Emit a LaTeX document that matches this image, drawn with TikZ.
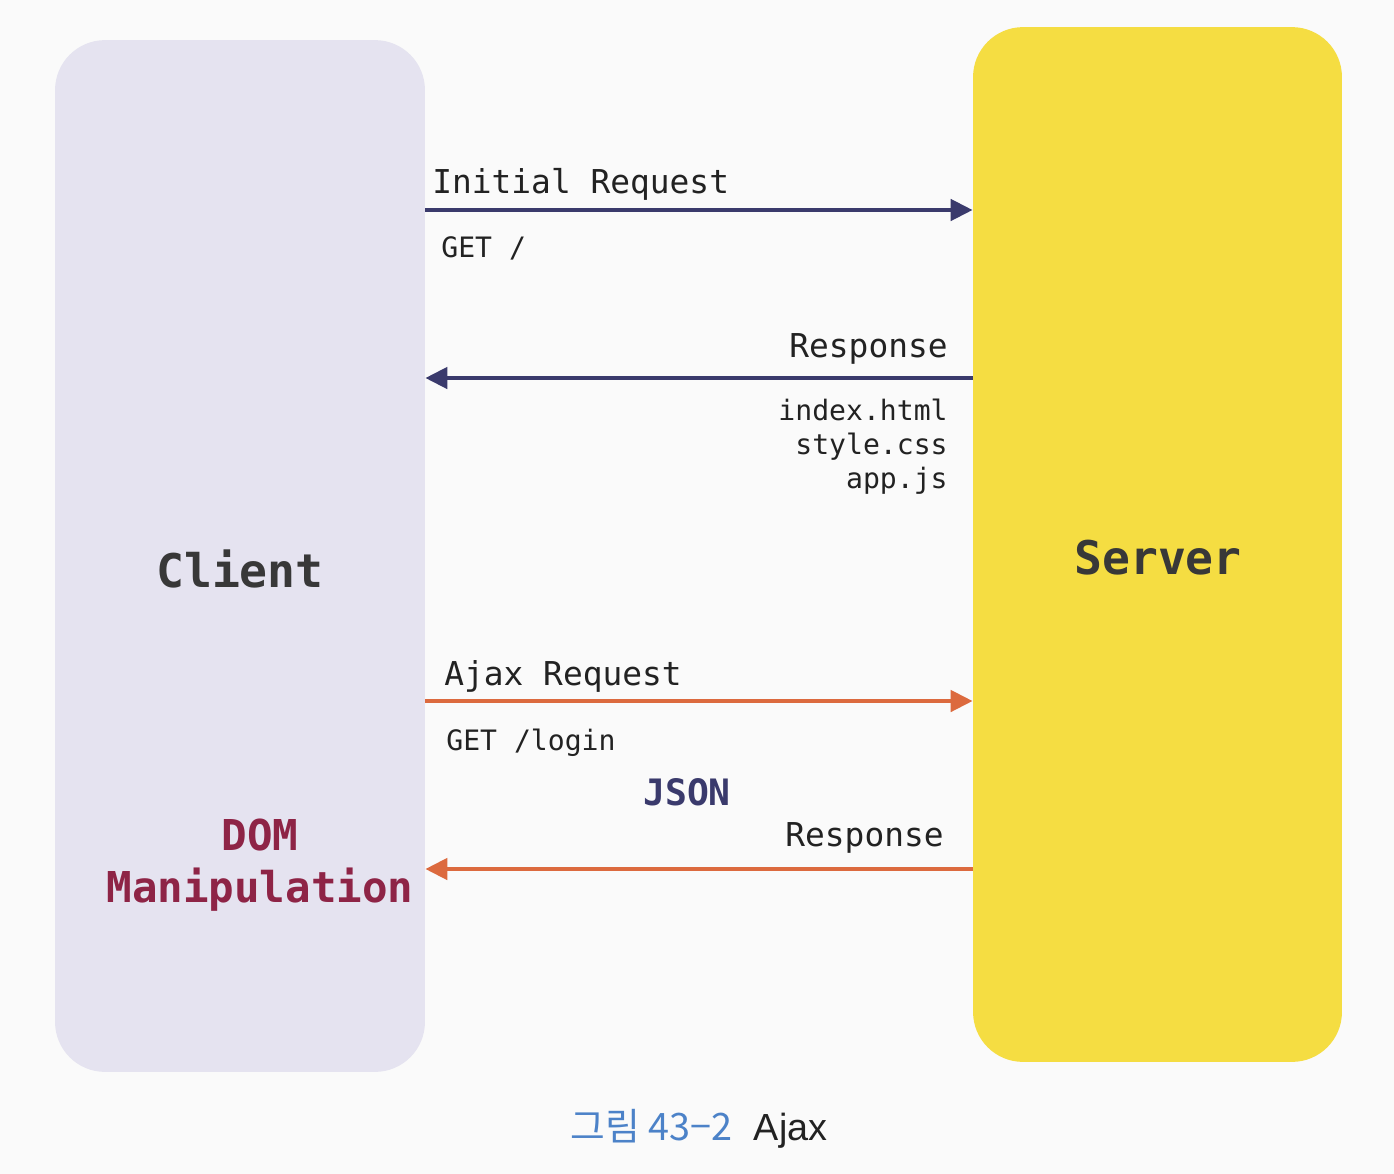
\documentclass[tikz,border=0pt]{standalone}
\usepackage{fontspec}
\setmonofont{DejaVu Sans Mono}
\newfontfamily\capkr{Noto Sans CJK KR}
\newfontfamily\capsans{Liberation Sans}
\usepackage{tikz}
\usetikzlibrary{positioning,arrows.meta}
\definecolor{paper}{HTML}{FAFAFA}
\definecolor{clientfill}{HTML}{E5E3F0}
\definecolor{serverfill}{HTML}{F5DD42}
\definecolor{navy}{HTML}{3A3A6C}
\definecolor{ajax}{HTML}{DC6A3E}
\definecolor{dom}{HTML}{8E2446}
\definecolor{ink}{HTML}{222222}
\definecolor{capblue}{HTML}{4C82C8}
\tikzset{%
  side box/.style={
    rounded corners=1cm,
    draw=none,
    inner sep=0pt
  },
  flow label/.style={
    font=\ttfamily\fontsize{18.7}{22}\selectfont,
    text=ink,
    inner sep=0pt
  },
  data label/.style={
    font=\ttfamily\fontsize{16}{19}\selectfont,
    text=ink,
    inner sep=0pt
  },
  side label/.style={
    font=\ttfamily\bfseries\fontsize{26.4}{30}\selectfont,
    text=ink!90,
    inner sep=0pt
  },
  flow/.style={
    line width=0.09cm,
    -{Triangle[length=0.44cm,width=0.42cm]}
  },
}

\begin{document}
\begin{tikzpicture}[x=0.02cm, y=-0.02cm]

    \fill [paper] (0,0) rectangle (1394,1174);
    \useasboundingbox (0,0) rectangle (1394,1174);

    % the two sides
    \node [side box, fill=clientfill, minimum width=7.4cm, minimum height=20.64cm]
        (client) at (240,556) {};
    \node [side box, fill=serverfill, minimum width=7.38cm, minimum height=20.7cm]
        (server) at (1157.5,544.5) {};

    \node [side label, anchor=base] (client-name) at (240,587) {Client};
    \node [side label, anchor=base] (server-name) at (1158,574) {Server};

    \node [side label, text=dom, font=\ttfamily\bfseries\fontsize{24.2}{28}\selectfont,
        anchor=base] (dom-1) at (260,850) {DOM};
    \node [side label, text=dom, font=\ttfamily\bfseries\fontsize{24.2}{28}\selectfont,
        anchor=base] (dom-2) at (260,902) {Manipulation};

    % connectors
    \foreach \n/\y in {req/210, res/378, areq/701, ares/869}
    {
        \coordinate (\n-c) at (client.east |- 0,\y);
        \coordinate (\n-s) at (server.west |- 0,\y);
    }

    \draw [flow, navy] (req-c) -- (req-s);
    \draw [flow, navy] (res-s) -- (res-c);
    \draw [flow, ajax] (areq-c) -- (areq-s);
    \draw [flow, ajax] (ares-s) -- (ares-c);

    % labels
    \node [flow label, anchor=base west] (req-label) at (432,193) {Initial Request};
    \node [data label, anchor=base west] (req-data) at (441,257) {GET /};

    \node [flow label, anchor=base east] (res-label) at (948,357) {Response};
    \foreach \f [count=\i] in {index.html, style.css, app.js}
    \node [data label, anchor=base east] (file-\i) at (948,386+\i*34) {\f};

    \node [flow label, anchor=base west] (areq-label) at (444,685) {Ajax Request};
    \node [data label, anchor=base west] (areq-data) at (446,750) {GET /login};

    \node [side label, text=navy, font=\ttfamily\bfseries\fontsize{20.7}{24}\selectfont,
        anchor=base] (json) at (687,805) {JSON};
    \node [flow label, anchor=base east] (ares-label) at (944,846) {Response};

    % caption
    \node [anchor=base west, inner sep=0pt, text=capblue,
        font=\capkr\fontsize{21.5}{25}\selectfont] (fig-num) at (570,1140) {그림 43−2};
    \node [inner sep=0pt, text=ink, font=\capsans\fontsize{21.5}{25}\selectfont,
        right=0.42cm of fig-num.base east, anchor=base west] (fig-name) {Ajax};

\end{tikzpicture}
\end{document}
